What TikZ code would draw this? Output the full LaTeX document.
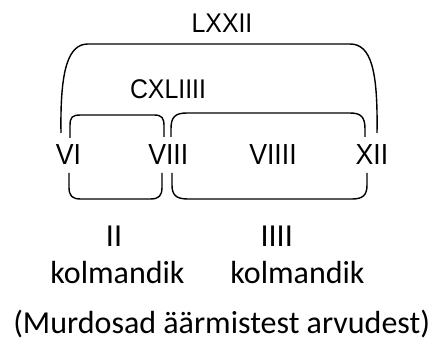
\documentclass[tikz,border=0pt]{standalone}
\usepackage{fontspec}
\newfontfamily\romfont[FakeStretch=0.92]{Liberation Sans}
\newfontfamily\txtfont{Carlito}

\tikzset{
  bow/.style={line width=1.4pt},
  num/.style={font=\romfont\fontsize{29}{29}\selectfont, anchor=base, inner sep=0pt},
  top/.style={num, font=\romfont\fontsize{27}{27}\selectfont},
  txt/.style={font=\txtfont\fontsize{32}{32}\selectfont, anchor=base, inner sep=0pt}
}

\begin{document}
\begin{tikzpicture}[x=1pt,y=-1pt]

% the page
\useasboundingbox (0,0) rectangle (437,350);

% the numbers
\node[top] (lxxii) at (222,32.3) {LXXII};
\node[top] (cxliiii) at (168,98.3) {CXLIIII};
\node[num] (vi) at (68.5,164.5) {VI};
\node[num] (viii) at (168.3,164.5) {VIII};
\node[num] (viiii) at (273,164.5) {VIIII};
\node[num] (xii) at (372,164.5) {XII};

% the brackets above
\draw[bow] (61,133) .. controls (60,70) and (68,44) .. (88,44) -- (350,44)
  .. controls (371,44) and (378,70) .. (377,133);
\draw[bow] (70,138) -- (70,126) .. controls (70,117) and (72,115) .. (81,115) -- (154,115)
  .. controls (162,115) and (164,118) .. (164,126) -- (164,137);
\draw[bow] (171,137) -- (171,129) .. controls (171,117) and (175,113) .. (187,113) -- (350,113)
  .. controls (361,113) and (365,117) .. (365,129) -- (365,137);

% the brackets below
\draw[bow] (69,173) -- (69,187) .. controls (69,196) and (72,199) .. (81,199) -- (150,199)
  .. controls (159,199) and (162,196) .. (162,187) -- (162,173);
\draw[bow] (172,173) -- (172,185) .. controls (172,195) and (176,199) .. (188,199) -- (352,199)
  .. controls (363,199) and (367,195) .. (367,185) -- (367,173);

% the thirds
\node[txt] (ii) at (114,246.5) {II};
\node[txt] (kolm1) at (117.5,283.3) {kolmandik};
\node[txt] (iiii) at (276.7,246.5) {IIII};
\node[txt] (kolm2) at (297.5,283.3) {kolmandik};

\node[txt] (murd) at (221.7,334) {(Murdosad äärmistest arvudest)};

\end{tikzpicture}
\end{document}
